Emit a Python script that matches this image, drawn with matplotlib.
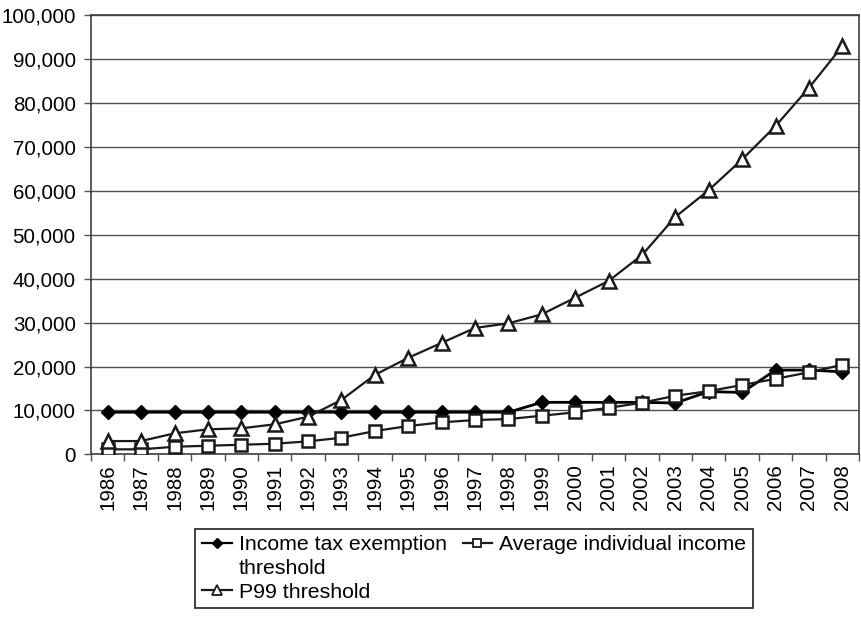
import matplotlib
matplotlib.use("Agg")
import matplotlib.pyplot as plt
from matplotlib.lines import Line2D
from matplotlib.ticker import FuncFormatter, FixedLocator

plt.rcParams['font.family'] = ['Liberation Sans', 'DejaVu Sans']

years = list(range(1986, 2009))
income_tax_exemption = [9600, 9600, 9600, 9600, 9600, 9600, 9600, 9600, 9600, 9600,
                        9600, 9600, 9600, 11850, 11850, 11850, 11850, 11700, 14300,
                        14100, 19200, 19200, 18800]
average_income = [1140, 1140, 1730, 1960, 2190, 2420, 2960, 3780, 5310, 6450,
                  7290, 7820, 8040, 8800, 9570, 10600, 11760, 13350, 14400, 15800,
                  17200, 18700, 20400]
p99_threshold = [3030, 3030, 4790, 5700, 5930, 6840, 8570, 12400, 18100, 22000,
                 25400, 28800, 29850, 31900, 35700, 39500, 45400, 54100, 60200,
                 67200, 74800, 83500, 93000]
y_ticks = list(range(0, 100001, 10000))

fig = plt.figure(figsize=(8.62, 6.19), dpi=100)
ax = fig.add_axes([0.1056, 0.266, 0.8909, 0.709])

x = list(range(len(years)))
gc = '#505050'
for v in y_ticks:
    ax.axhline(v, color=gc, lw=1.0, zorder=1)

ax.plot(x, income_tax_exemption, color='black', lw=2.0, marker='D', markersize=7,
        markerfacecolor='black', markeredgecolor='black', zorder=3)
ax.plot(x, average_income, color='#1a1a1a', lw=1.6, marker='s', markersize=9,
        markerfacecolor='white', markeredgecolor='#1a1a1a', markeredgewidth=1.8, zorder=4)
ax.plot(x, p99_threshold, color='#1a1a1a', lw=1.6, marker='^', markersize=10,
        markerfacecolor='white', markeredgecolor='#1a1a1a', markeredgewidth=1.8, zorder=4)

ax.set_xlim(-0.5, len(years) - 0.5)
ax.set_ylim(0, 100000)
ax.set_yticks(y_ticks)
ax.yaxis.set_major_formatter(FuncFormatter(lambda v, p: f"{int(v):,}"))
ax.set_xticks(x)
ax.set_xticklabels([str(y) for y in years], rotation=90)
ax.xaxis.set_minor_locator(FixedLocator([i - 0.5 for i in range(len(years) + 1)]))
ax.tick_params(axis='x', which='major', length=0, pad=7, labelsize=14.8)
ax.tick_params(axis='x', which='minor', length=5, width=1, color=gc, direction='out')
ax.tick_params(axis='y', length=5, width=1, color=gc, pad=6, labelsize=14.8)
for s in ax.spines.values():
    s.set_color('#404040')
    s.set_linewidth(1.2)

h_inc = Line2D([], [], color='black', lw=1.6, marker='D', markersize=5,
               markerfacecolor='black', markeredgecolor='black')
h_avg = Line2D([], [], color='#1a1a1a', lw=1.6, marker='s', markersize=6,
               markerfacecolor='white', markeredgecolor='#1a1a1a', markeredgewidth=1.3)
h_p99 = Line2D([], [], color='#1a1a1a', lw=1.6, marker='^', markersize=6.5,
               markerfacecolor='white', markeredgecolor='#1a1a1a', markeredgewidth=1.3)
blank = Line2D([], [], color='none', lw=0)

handles = [h_inc, blank, h_p99, h_avg, blank, blank]
labels = ['Income tax exemption', 'threshold', 'P99 threshold',
          'Average individual income', '', '']
leg = fig.legend(handles, labels, ncol=2, loc='center',
                 bbox_to_anchor=(0.55, 0.0816), bbox_transform=fig.transFigure,
                 fontsize=15.3, frameon=True, fancybox=False, framealpha=1,
                 edgecolor='#202020', handlelength=1.4, handletextpad=0.33,
                 columnspacing=0.75, labelspacing=0.22, borderpad=0.3,
                 borderaxespad=0)
leg.get_frame().set_linewidth(1.2)

fig.savefig('out.png', dpi=100)
